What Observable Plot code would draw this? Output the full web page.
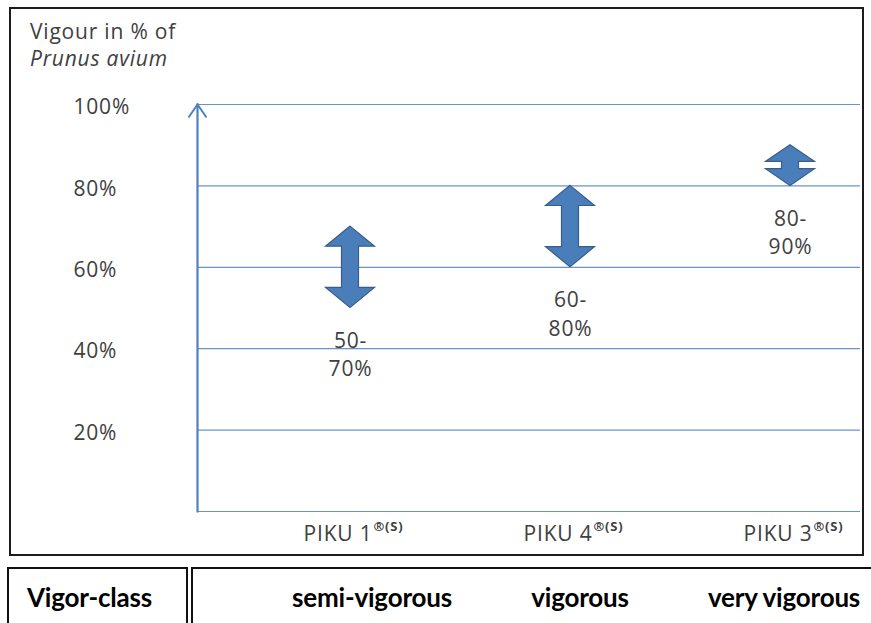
<!DOCTYPE html>
<html>
<head>
<meta charset="utf-8">
<script src="https://cdn.jsdelivr.net/npm/d3@7"></script>
<script src="https://cdn.jsdelivr.net/npm/@observablehq/plot@0.6"></script>
<style>
  html, body { margin: 0; padding: 0; background: #fff; }
  #page { position: relative; width: 871px; height: 623px; overflow: hidden; background: #fff; }
  #box { position: absolute; left: 9px; top: 7px; width: 855px; height: 549px; border: 2px solid #1c1c1c; box-sizing: border-box; }
  #title { position: absolute; left: 30px; top: 18px; font: 21px/27px "Open Sans", sans-serif; color: #404040; letter-spacing: 0.8px; }
  #title i { font-style: italic; }
  #chart { position: absolute; left: 0; top: 0; }
  .cell { position: absolute; top: 567px; height: 80px; border: 2px solid #111; box-sizing: border-box; }
  .cls { position: absolute; top: 582px; font: bold 26px/30px Lato, sans-serif; color: #000; white-space: nowrap; transform: translateX(-50%); letter-spacing: -0.2px; }
</style>
</head>
<body>
<div id="page">
  <div id="box"></div>
  <div id="title">Vigour in % of<br><i>Prunus avium</i></div>
  <div id="chart"></div>
  <div class="cell" style="left:7px; width:181px;"></div>
  <div class="cell" style="left:191px; width:700px;"></div>
  <div class="cls" id="rowHead" style="transform:none; left:27px;">Vigor-class</div>
</div>
<script>
// Rootstocks and their vigour range (% of Prunus avium seedling)
const categories = ["PIKU 1", "PIKU 4", "PIKU 3"];
const lowValues = [50, 60, 80];
const highValues = [70, 80, 90];
const trademark = "®(S)";
const vigorClasses = ["semi-vigorous", "vigorous", "very vigorous"];
const yTicks = [20, 40, 60, 80, 100];
const gridValues = [0, 20, 40, 60, 80, 100];

const ranges = categories.map((name, i) => ({name, lo: lowValues[i], hi: highValues[i]}));

const blue = "#4f81bd";
const textGray = "#404040";

// Open chevron used as the arrowhead on top of the y axis
const chevron = {
  draw(ctx, size) {
    const r = Math.sqrt(size / Math.PI);
    ctx.moveTo(-r, r * 1.45);
    ctx.lineTo(0, 0);
    ctx.lineTo(r, r * 1.45);
  }
};

// Block double-headed arrow spanning y1..y2 at each category
function drawArrows(index, scales, values) {
  const X = values.x, Y1 = values.y1, Y2 = values.y2;
  const g = d3.create("svg:g");
  const hw = 24.5, sw = 8.5;
  for (const i of index) {
    const cx = X[i];
    const top = Math.min(Y1[i], Y2[i]);
    const bottom = Math.max(Y1[i], Y2[i]);
    const len = bottom - top;
    const hh = 0.41 * Math.min(2 * hw, len);
    const pts = [
      [cx, top], [cx + hw, top + hh], [cx + sw, top + hh],
      [cx + sw, bottom - hh], [cx + hw, bottom - hh], [cx, bottom],
      [cx - hw, bottom - hh], [cx - sw, bottom - hh], [cx - sw, top + hh],
      [cx - hw, top + hh]
    ];
    g.append("path")
      .attr("d", "M" + pts.map(p => p.join(",")).join("L") + "Z")
      .attr("fill", "#4a7ebb")
      .attr("stroke", "#385d8a")
      .attr("stroke-width", 1.2)
      .attr("stroke-linejoin", "miter");
  }
  return g.node();
}

const chart = Plot.plot({
  width: 871,
  height: 560,
  marginTop: 104,
  marginBottom: 49,
  marginLeft: 197,
  marginRight: 11,
  x: {type: "point", domain: categories, range: [349, 790], padding: 0, axis: null},
  y: {domain: [0, 100], axis: null},
  style: {fontFamily: "'Open Sans', sans-serif", background: "transparent", overflow: "visible"},
  marks: [
    Plot.ruleY(gridValues, {stroke: blue, strokeOpacity: 0.85, strokeWidth: 1.2}),
    Plot.frame({anchor: "left", stroke: blue, strokeWidth: 2.2}),
    Plot.dot([100], {y: d => d, frameAnchor: "left", symbol: chevron, r: 9, stroke: blue, strokeWidth: 2, fill: "none"}),
    Plot.text(yTicks, {
      y: d => d, text: d => `${d}%`, frameAnchor: "left", textAnchor: "start",
      dx: -124, dy: 3, fontSize: 21, fill: textGray
    }),
    Plot.ruleX(ranges, {x: "name", y1: "lo", y2: "hi", render: drawArrows}),
    Plot.text(ranges, {
      x: "name", y: "lo", text: d => `${d.lo}-\n${d.hi}%`,
      lineAnchor: "top", dy: 20, lineHeight: 1.35, fontSize: 21, fill: textGray
    }),
    Plot.text(categories, {
      x: d => d, text: d => d, frameAnchor: "bottom", textAnchor: "end",
      dx: 22, dy: 29, fontSize: 21, fill: textGray
    }),
    Plot.text(categories, {
      x: d => d, text: () => trademark, frameAnchor: "bottom", textAnchor: "start",
      dx: 23, dy: 19, fontSize: 13, fontWeight: "bold", fill: textGray
    })
  ]
});
chart.querySelectorAll("text").forEach(t => t.style.letterSpacing = "0.8px");
document.getElementById("chart").appendChild(chart);

// Vigor-class row under the chart
const classCenters = [372, 580, 784];
const page = document.getElementById("page");
vigorClasses.forEach((c, i) => {
  const el = document.createElement("div");
  el.className = "cls";
  el.style.left = classCenters[i] + "px";
  el.textContent = c;
  page.appendChild(el);
});
</script>
</body>
</html>
